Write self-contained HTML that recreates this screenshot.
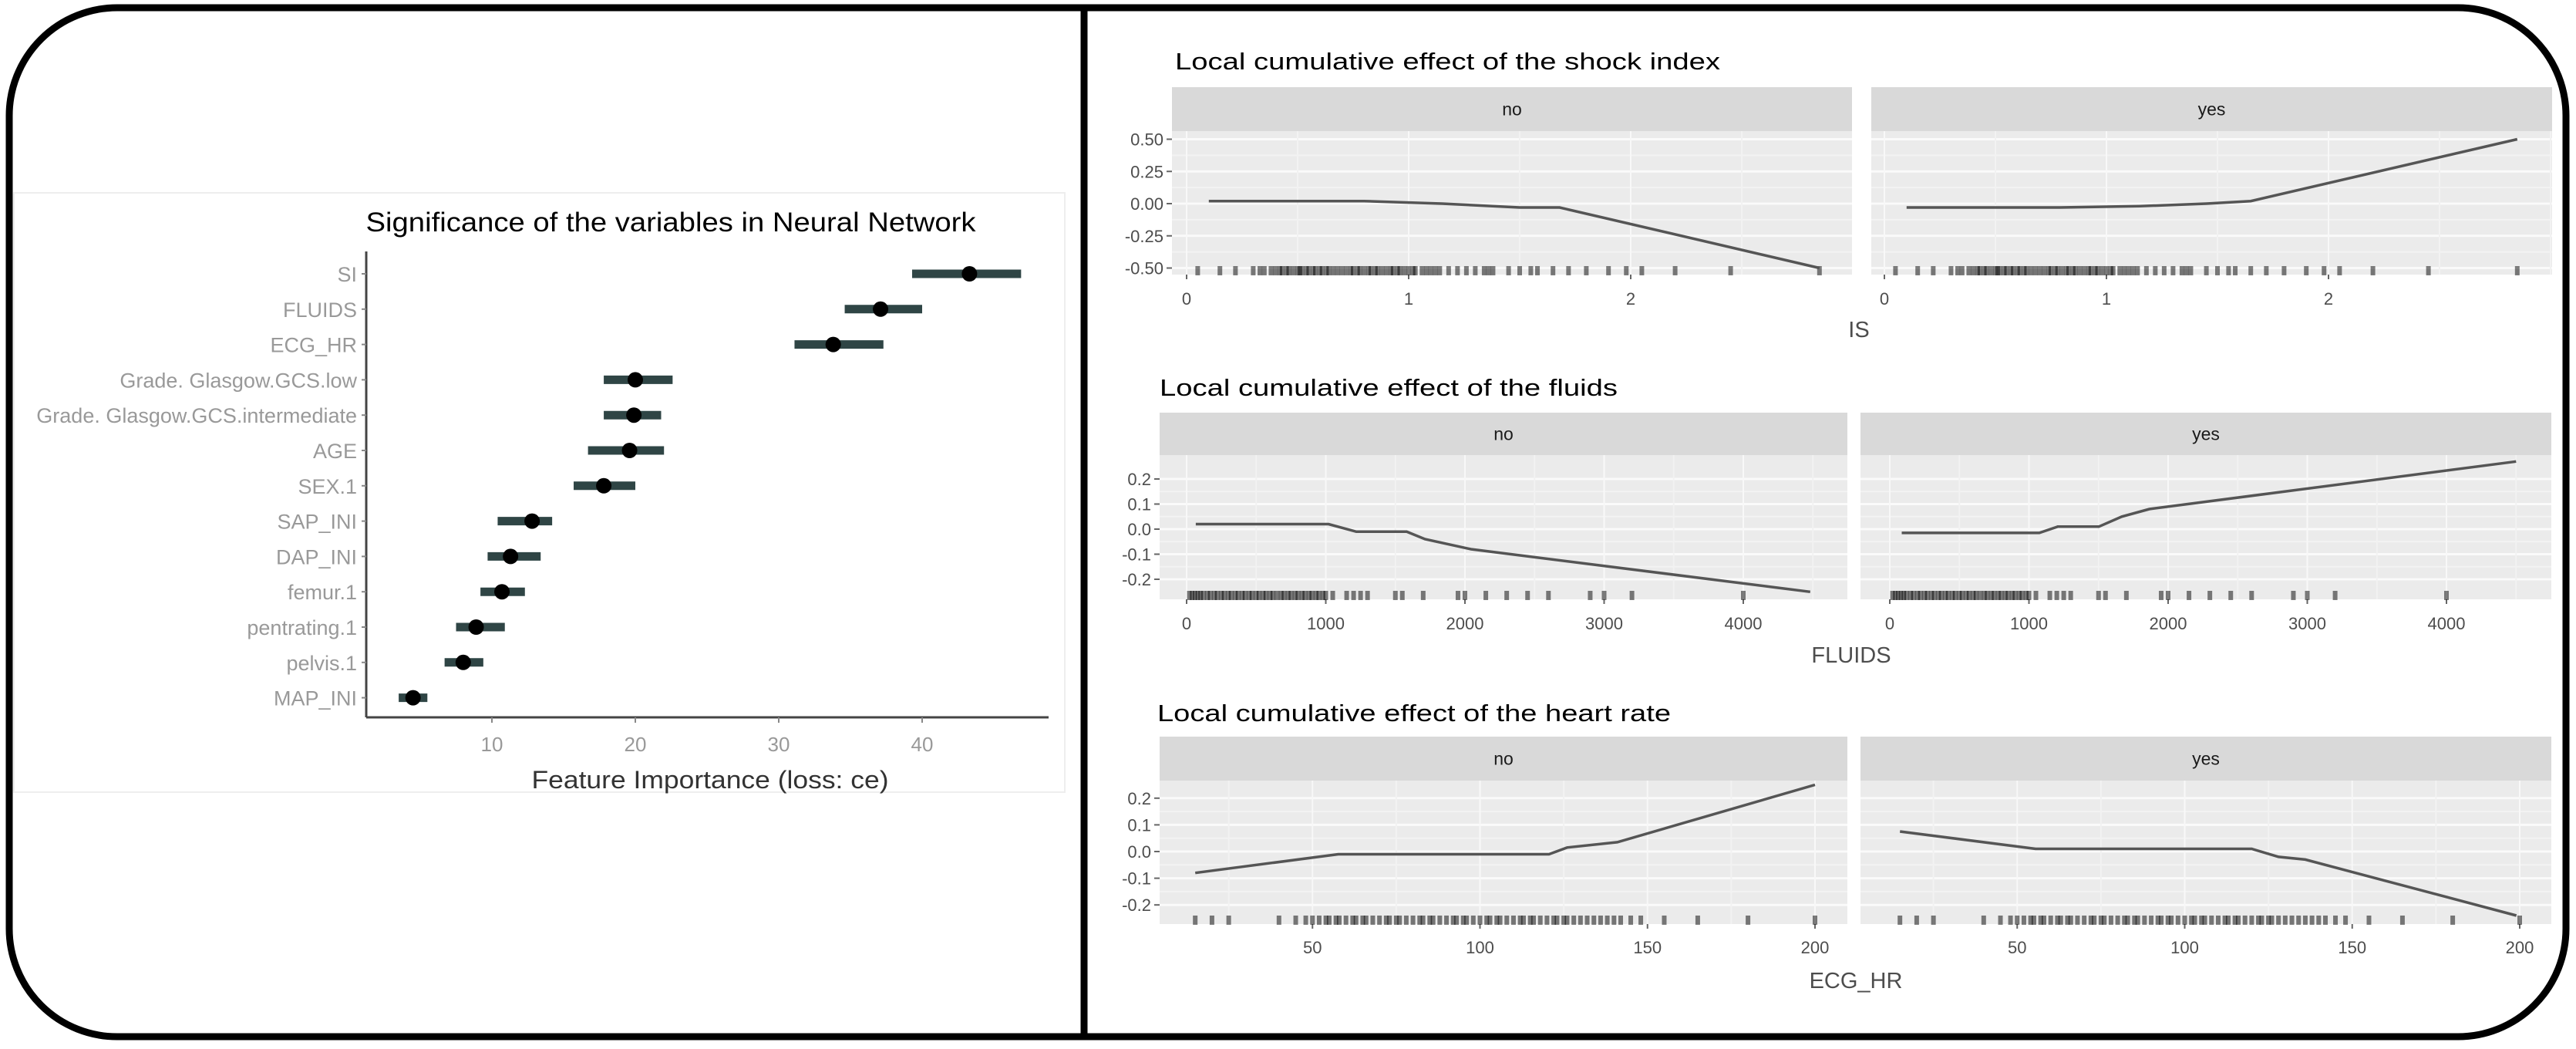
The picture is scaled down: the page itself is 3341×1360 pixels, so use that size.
<!DOCTYPE html>
<html><head><meta charset="utf-8"><style>
html,body{margin:0;padding:0;background:#fff;}
svg{display:block;font-family:"Liberation Sans",sans-serif;}
</style></head><body>
<svg id="fig" width="3341" height="1360" viewBox="0 0 3341 1360" xmlns="http://www.w3.org/2000/svg">
<rect x="0" y="0" width="3341" height="1360" fill="#fff"/>
<rect x="12" y="10" width="3316" height="1334" rx="140" ry="140" fill="none" stroke="#000" stroke-width="9"/>
<line x1="1406" y1="10" x2="1406" y2="1344" stroke="#000" stroke-width="9"/>
<rect x="18" y="250" width="1363" height="777" fill="none" stroke="#eee" stroke-width="2"/>
<text x="870" y="300" font-size="35" text-anchor="middle" textLength="791" lengthAdjust="spacingAndGlyphs" fill="#000">Significance of the variables in Neural Network</text>
<g id="imp"></g>
<g id="ale"></g>
</svg>
<script>
// ---- Feature importance data ----
const featNames = ["SI","FLUIDS","ECG_HR","Grade. Glasgow.GCS.low","Grade. Glasgow.GCS.intermediate","AGE","SEX.1","SAP_INI","DAP_INI","femur.1","pentrating.1","pelvis.1","MAP_INI"];
const featImp = [43.3,37.1,33.8,20.0,19.9,19.6,17.8,12.8,11.3,10.7,8.9,8.0,4.5];
const featLo = [39.3,34.6,31.1,17.8,17.8,16.7,15.7,10.4,9.7,9.2,7.5,6.7,3.5];
const featHi = [46.9,40.0,37.3,22.6,21.8,22.0,20.0,14.2,13.4,12.3,10.9,9.4,5.5];
const impTicks = [10,20,30,40];

// ---- ALE data ----
const siNoX = [0.1,0.8,1.15,1.5,1.68,2.85];
const siNoY = [0.02,0.02,0.0,-0.03,-0.03,-0.5];
const siYesX = [0.1,0.79,1.15,1.45,1.65,2.85];
const siYesY = [-0.03,-0.03,-0.02,0.0,0.02,0.5];
const siTicksX = [0,1,2];
const siTicksY = [0.5,0.25,0,-0.25,-0.5];
const siTickLabelsY = ["0.50","0.25","0.00","-0.25","-0.50"];
const siRug = [0.05,0.15,0.22,0.3,0.33,0.35,0.38,0.4,0.42,0.43,0.45,0.46,0.48,0.5,0.51,0.52,0.54,0.55,0.57,0.58,0.6,0.61,0.63,0.64,0.66,0.68,0.7,0.72,0.74,0.75,0.77,0.78,0.8,0.82,0.83,0.85,0.86,0.88,0.9,0.92,0.93,0.95,0.96,0.98,1.0,1.02,1.03,1.06,1.08,1.1,1.12,1.14,1.18,1.22,1.26,1.3,1.34,1.36,1.38,1.45,1.5,1.55,1.58,1.65,1.72,1.8,1.9,1.98,2.05,2.2,2.45,2.85];

const flNoX = [66,1020,1219,1581,1713,2043,4481];
const flNoY = [0.02,0.02,-0.01,-0.01,-0.04,-0.08,-0.25];
const flYesX = [86,1074,1206,1502,1667,1865,4500];
const flYesY = [-0.015,-0.015,0.01,0.01,0.05,0.08,0.27];
const flTicksX = [0,1000,2000,3000,4000];
const flTicksY = [0.2,0.1,0,-0.1,-0.2];
const flTickLabelsY = ["0.2","0.1","0.0","-0.1","-0.2"];
const flRug = [20,40,60,80,100,120,150,170,200,220,250,270,300,320,350,370,400,420,450,470,500,520,550,570,600,620,650,680,700,730,750,780,800,830,850,880,900,930,950,980,1000,1050,1150,1200,1250,1300,1500,1550,1700,1950,2000,2150,2300,2450,2600,2900,3000,3200,4000];

const hrNoX = [15,57.7,120.6,126,141,200];
const hrNoY = [-0.08,-0.01,-0.01,0.015,0.035,0.25];
const hrYesX = [15,55.5,120,128,136,199];
const hrYesY = [0.075,0.01,0.01,-0.02,-0.03,-0.24];
const hrTicksX = [50,100,150,200];
const hrTicksY = [0.2,0.1,0,-0.1,-0.2];
const hrTickLabelsY = ["0.2","0.1","0.0","-0.1","-0.2"];
const hrRug = [15,20,25,40,45,48,50,52,54,55,57,58,60,62,63,65,66,68,70,72,73,75,76,78,80,82,83,85,86,88,90,92,93,95,96,98,100,102,103,105,106,108,110,112,113,115,116,118,120,122,123,125,126,128,130,132,134,136,138,140,142,145,148,155,165,180,200];

const NS="http://www.w3.org/2000/svg";
function mk(tag,attrs,parent,text){const e=document.createElementNS(NS,tag);for(const k in attrs)e.setAttribute(k,attrs[k]);if(text!==undefined)e.textContent=text;parent.appendChild(e);return e;}

// ---- Importance chart ----
(function(){
  const g=document.getElementById('imp');
  const x0=452, ux=18.6, yTop=355, step=45.8, axY=930, axL=475, axR=1360;
  const sx=v=>x0+v*ux, sy=i=>yTop+i*step;
  const ya=mk('line',{x1:axL,y1:326,x2:axL,y2:axY,stroke:'#444','stroke-width':3},g);
  
  const xa=mk('line',{x1:axL,y1:axY,x2:axR,y2:axY,stroke:'#444','stroke-width':3},g);
  
  impTicks.forEach(t=>{
    const tk=mk('line',{x1:sx(t),y1:axY,x2:sx(t),y2:axY+7,stroke:'#888','stroke-width':2},g);
    
    const tl=mk('text',{x:sx(t),y:axY+44,'font-size':26,'text-anchor':'middle',fill:'#999'},g,String(t));
    
  });
  const xt=mk('text',{x:921,y:1022,'font-size':32,'text-anchor':'middle',fill:'#333',textLength:463,lengthAdjust:'spacingAndGlyphs'},g,'Feature Importance (loss: ce)');
  
  featNames.forEach((n,i)=>{
    const y=sy(i);
    const lb=mk('text',{x:463,y:y+10,'font-size':27,'text-anchor':'end',fill:'#999'},g,n);
    
    const tk=mk('line',{x1:axL-6,y1:y,x2:axL,y2:y,stroke:'#888','stroke-width':2},g);
    
    const bar=mk('line',{x1:sx(featLo[i]),y1:y,x2:sx(featHi[i]),y2:y,stroke:'#2f4545','stroke-width':11},g);
    
    const pt=mk('circle',{cx:sx(featImp[i]),cy:y,r:10,fill:'#000'},g);
    
  });
})();

// ---- ALE panels ----
function alePanel(cfg){
  const g=mk('g',{},document.getElementById('ale'));
  
  
  const t=mk('text',{x:cfg.titleX,y:cfg.titleY,'font-size':31,fill:'#000',textLength:cfg.titleW,lengthAdjust:'spacingAndGlyphs'},g,cfg.title);
  
  const sy=v=>cfg.y0-v*cfg.uy;
  const facets=[{lab:'no',L:cfg.noL,R:cfg.noR,x0:cfg.noX0,xs:cfg.noXs,ys:cfg.noYs},{lab:'yes',L:cfg.yesL,R:cfg.yesR,x0:cfg.yesX0,xs:cfg.yesXs,ys:cfg.yesYs}];
  facets.forEach(f=>{
    const sx=v=>f.x0+v*cfg.ux;
    const st=mk('rect',{x:f.L,y:cfg.stripT,width:f.R-f.L,height:cfg.stripB-cfg.stripT,fill:'#d9d9d9'},g);
    
    const sl=mk('text',{x:(f.L+f.R)/2,y:(cfg.stripT+cfg.stripB)/2+8,'font-size':23,'text-anchor':'middle',fill:'#1a1a1a'},g,f.lab);
    
    const bg=mk('rect',{x:f.L,y:cfg.stripB,width:f.R-f.L,height:cfg.panB-cfg.stripB,fill:'#ebebeb'},g);
    
    for(let i=0;i<cfg.ticksY.length-1;i++){
      const m=(cfg.ticksY[i]+cfg.ticksY[i+1])/2;
      const gl=mk('line',{x1:f.L,y1:sy(m),x2:f.R,y2:sy(m),stroke:'#f3f3f3','stroke-width':2},g);
      
    }
    cfg.ticksY.forEach(v=>{
      const gl=mk('line',{x1:f.L,y1:sy(v),x2:f.R,y2:sy(v),stroke:'#fafafa','stroke-width':3},g);
      
    });
    const st2=cfg.ticksX[1]-cfg.ticksX[0];
    for(let v=cfg.ticksX[0]-st2/2; sx(v)<f.R; v+=st2/2){
      if(sx(v)<f.L) continue;
      const major=cfg.ticksX.indexOf(v)>=0;
      const gl=mk('line',{x1:sx(v),y1:cfg.stripB,x2:sx(v),y2:cfg.panB,stroke:major?'#f8f8f8':'#f2f2f2','stroke-width':2},g);
      
    }
    cfg.ticksX.forEach(v=>{
      const tk=mk('line',{x1:sx(v),y1:cfg.panB,x2:sx(v),y2:cfg.panB+6,stroke:'#666','stroke-width':2},g);
      
      const tl=mk('text',{x:sx(v),y:cfg.tickLabY,'font-size':22,'text-anchor':'middle',fill:'#4d4d4d'},g,String(v));
      
    });
    cfg.rug.forEach(v=>{
      const r=mk('line',{x1:sx(v),y1:cfg.panB-11,x2:sx(v),y2:cfg.panB+1,stroke:'#000','stroke-width':6,'stroke-opacity':0.5},g);
      
    });
    const pts=f.xs.map((x,i)=>sx(x).toFixed(1)+','+sy(f.ys[i]).toFixed(1)).join(' ');
    const pl=mk('polyline',{points:pts,fill:'none',stroke:'#555','stroke-width':3.5},g);
    
  });
  cfg.ticksY.forEach((v,i)=>{
    const tk=mk('line',{x1:cfg.noL-7,y1:sy(v),x2:cfg.noL,y2:sy(v),stroke:'#666','stroke-width':2},g);
    
    const tl=mk('text',{x:cfg.noL-11,y:sy(v)+8,'font-size':22,'text-anchor':'end',fill:'#4d4d4d'},g,cfg.tickLabelsY[i]);
    
  });
  const xt=mk('text',{x:cfg.xTitleX,y:cfg.xTitleY,'font-size':29,'text-anchor':'middle',fill:'#4d4d4d'},g,cfg.xTitle);
  
}

alePanel({name:'ale-shock-index',title:'Local cumulative effect of the shock index',titleX:1524,titleY:90,titleW:707,
  stripT:113,stripB:170,panB:356,noL:1520,noR:2402,yesL:2427,yesR:3310,noX0:1539,yesX0:2444,ux:288,y0:264,uy:167,
  ticksX:siTicksX,ticksY:siTicksY,tickLabelsY:siTickLabelsY,tickLabY:395,rug:siRug,
  noXs:siNoX,noYs:siNoY,yesXs:siYesX,yesYs:siYesY,xTitle:'IS',xTitleX:2411,xTitleY:437});
alePanel({name:'ale-fluids',title:'Local cumulative effect of the fluids',titleX:1504,titleY:513,titleW:594,
  stripT:535,stripB:590,panB:777,noL:1504,noR:2396,yesL:2413,yesR:3309,noX0:1539,yesX0:2451,ux:0.1805,y0:686,uy:325,
  ticksX:flTicksX,ticksY:flTicksY,tickLabelsY:flTickLabelsY,tickLabY:816,rug:flRug,
  noXs:flNoX,noYs:flNoY,yesXs:flYesX,yesYs:flYesY,xTitle:'FLUIDS',xTitleX:2401,xTitleY:859});
alePanel({name:'ale-heart-rate',title:'Local cumulative effect of the heart rate',titleX:1501,titleY:935,titleW:666,
  stripT:955,stripB:1012,panB:1198,noL:1504,noR:2396,yesL:2413,yesR:3309,noX0:1485,yesX0:2399,ux:4.345,y0:1104,uy:346,
  ticksX:hrTicksX,ticksY:hrTicksY,tickLabelsY:hrTickLabelsY,tickLabY:1236,rug:hrRug,
  noXs:hrNoX,noYs:hrNoY,yesXs:hrYesX,yesYs:hrYesY,xTitle:'ECG_HR',xTitleX:2407,xTitleY:1281});
</script>
</body></html>
